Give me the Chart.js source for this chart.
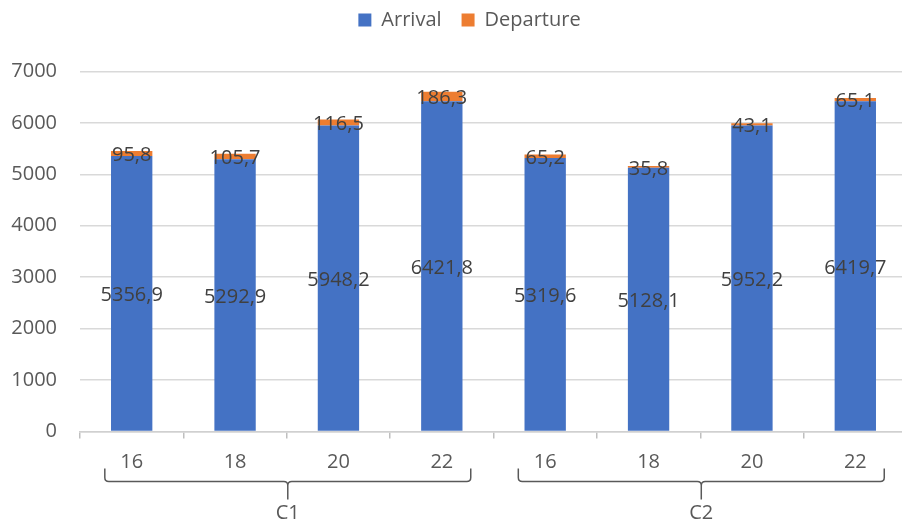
<!DOCTYPE html>
<html>
<head>
<meta charset="utf-8">
<script src="https://cdn.jsdelivr.net/npm/chart.js@4.4.1/dist/chart.umd.min.js"></script>
<style>
  html, body { margin: 0; padding: 0; background: #ffffff; overflow: hidden; width: 902px; height: 522px; }
  #wrap { width: 908px; height: 522px; }
</style>
</head>
<body>
<div id="wrap"><canvas id="chart" width="908" height="522"></canvas></div>
<script>
// Hours within each configuration, grouped under C1 and C2
const categories = ['16', '18', '20', '22', '16', '18', '20', '22'];
const groups = ['C1', 'C2'];
const groupSize = 4;

// Stacked series
const arrival = [5356.9, 5292.9, 5948.2, 6421.8, 5319.6, 5128.1, 5952.2, 6419.7];
const departure = [95.8, 105.7, 116.5, 186.3, 65.2, 35.8, 43.1, 65.1];

// Value axis
const yMin = 0;
const yMax = 7000;
const yStep = 1000;

const FONT = '"Open Sans", "DejaVu Sans", sans-serif';
const TEXT = '#595959';
const LABEL = '#404040';

const fmt = v => v.toFixed(1).replace('.', ',');

// Legend placement: extra room below it, row nudged into place
const legendSpacing = {
  id: 'legendSpacing',
  beforeLayout(chart) {
    const lg = chart.legend;
    if (lg && !lg._spaced) {
      const fit = lg.fit;
      lg.fit = function () { fit.call(this); this.height += 21.5; };
      const draw = lg.draw;
      lg.draw = function () {
        const ctx = this.ctx;
        ctx.save();
        ctx.translate(16, -10);
        draw.apply(this, arguments);
        ctx.restore();
      };
      lg._spaced = true;
    }
  }
};

// Value labels centred on every segment
const barLabels = {
  id: 'barLabels',
  afterDatasetsDraw(chart) {
    const ctx = chart.ctx;
    ctx.save();
    ctx.font = '20px ' + FONT;
    ctx.fillStyle = LABEL;
    ctx.textAlign = 'center';
    ctx.textBaseline = 'middle';
    chart.data.datasets.forEach((ds, i) => {
      chart.getDatasetMeta(i).data.forEach((bar, j) => {
        const y = (bar.y + bar.base) / 2 + 2;
        ctx.fillText(fmt(ds.data[j]), bar.x, y);
      });
    });
    ctx.restore();
  }
};

// Curly braces and names of the category groups under the axis
const groupBraces = {
  id: 'groupBraces',
  afterDraw(chart) {
    const xs = chart.scales.x;
    const ctx = chart.ctx;
    const w = xs.width / categories.length;
    const b = chart.chartArea.bottom;
    ctx.save();
    ctx.strokeStyle = '#595959';
    ctx.lineWidth = 1.5;
    ctx.fillStyle = TEXT;
    ctx.font = '20px ' + FONT;
    ctx.textAlign = 'center';
    ctx.textBaseline = 'middle';
    groups.forEach((g, gi) => {
      const first = gi * groupSize;
      const last = first + groupSize - 1;
      const start = xs.getPixelForValue(first) - w / 2;
      const end = xs.getPixelForValue(last) + w / 2;
      const l = start + 0.24 * w;
      const r = end - 0.22 * w;
      const m = (l + r) / 2;
      const yt = b + 37, yh = b + 50, ys = b + 68, rad = 4;
      ctx.beginPath();
      ctx.moveTo(l, yt);
      ctx.lineTo(l, yh - rad);
      ctx.quadraticCurveTo(l, yh, l + rad, yh);
      ctx.lineTo(m - rad, yh);
      ctx.quadraticCurveTo(m, yh, m, yh + rad);
      ctx.lineTo(m, ys);
      ctx.moveTo(m, yh + rad);
      ctx.quadraticCurveTo(m, yh, m + rad, yh);
      ctx.lineTo(r - rad, yh);
      ctx.quadraticCurveTo(r, yh, r, yh - rad);
      ctx.lineTo(r, yt);
      ctx.stroke();
      ctx.fillText(g, m, b + 82);
    });
    ctx.restore();
  }
};

Chart.defaults.font.family = FONT;

new Chart(document.getElementById('chart'), {
  type: 'bar',
  data: {
    labels: categories,
    datasets: [
      { label: 'Arrival', data: arrival, backgroundColor: '#4472C4', borderWidth: 0 },
      { label: 'Departure', data: departure, backgroundColor: '#ED7D31', borderWidth: 0 }
    ]
  },
  options: {
    responsive: false,
    animation: false,
    devicePixelRatio: 1,
    layout: { padding: { top: 0, right: 1, bottom: 0, left: 0 } },
    datasets: { bar: { categoryPercentage: 1, barPercentage: 0.4 } },
    plugins: {
      tooltip: { enabled: false },
      legend: {
        position: 'top',
        labels: {
          boxWidth: 13,
          boxHeight: 13,
          padding: 20,
          color: TEXT,
          font: { size: 20, family: FONT }
        }
      }
    },
    scales: {
      x: {
        stacked: true,
        grid: { display: true, drawOnChartArea: false, drawTicks: true, tickLength: 7, color: '#bfbfbf', lineWidth: 1.5, offset: true },
        border: { display: true, color: '#d0d0d0', width: 1.5 },
        ticks: { color: TEXT, font: { size: 20, family: FONT }, padding: 11.5, maxRotation: 0 },
        afterFit(s) { s.height = 90.5; }
      },
      y: {
        stacked: true,
        min: yMin,
        max: yMax,
        ticks: { stepSize: yStep, color: TEXT, font: { size: 20, family: FONT }, padding: 23, callback: v => String(v) },
        grid: { color: '#d9d9d9', lineWidth: 1.5, drawTicks: false },
        border: { display: false },
        afterFit(s) { s.width = 80; }
      }
    }
  },
  plugins: [legendSpacing, barLabels, groupBraces]
});
</script>
</body>
</html>
